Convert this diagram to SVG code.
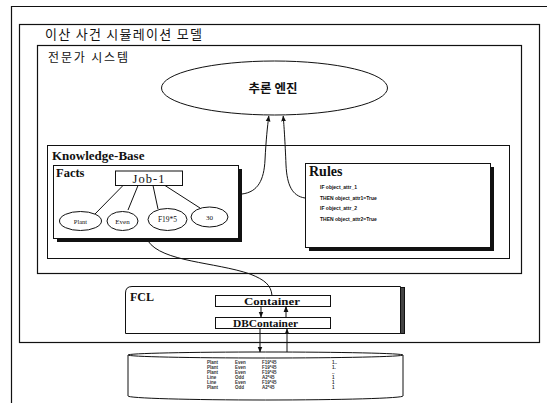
<svg xmlns="http://www.w3.org/2000/svg" width="547" height="403" viewBox="0 0 547 403">
<defs>
<marker id="ah" viewBox="0 0 10 10" refX="9" refY="5" markerWidth="6" markerHeight="6" orient="auto" markerUnits="userSpaceOnUse">
<path d="M0,1 L10,5 L0,9 z" fill="#111"/>
</marker>
<style>
.frame{fill:none;stroke:#111;stroke-width:1.2}
.box{fill:#fff;stroke:#111;stroke-width:1}
.shadow{fill:#111}
.kr{font-family:"Noto Sans CJK KR","Noto Sans",sans-serif;fill:#111}
.sf{font-family:"Liberation Serif",serif;fill:#111}
.ss{font-family:"Liberation Sans",sans-serif;fill:#111}
.conn{fill:none;stroke:#111;stroke-width:1}
.tbl{font-family:"Liberation Sans",sans-serif;font-size:4.5px;font-weight:bold;fill:#333}
</style>
</defs>
<rect width="547" height="403" fill="#fff"/>

<g id="outer-frame">
<path class="frame" d="M11.5,403 L11.5,6.5 L547,6.5"/>
</g>

<g id="simulation-model">
<rect class="frame" x="19.5" y="24.5" width="520" height="318"/>
<text class="kr" x="45" y="39" font-size="13" textLength="157">이산 사건 시뮬레이션 모델</text>
</g>

<g id="expert-system">
<rect class="frame" x="37.5" y="45.5" width="484" height="228"/>
<text class="kr" x="48" y="62" font-size="12" textLength="80">전문가 시스템</text>
</g>

<g id="inference-engine">
<ellipse class="box" cx="274.5" cy="88" rx="113" ry="27"/>
<text class="kr" x="273" y="93" font-size="12.5" font-weight="bold" text-anchor="middle">추론 엔진</text>
</g>

<g id="knowledge-base">
<rect class="box" x="47.5" y="145.5" width="462" height="113"/>
<text class="sf" x="52" y="160" font-size="13" font-weight="bold">Knowledge-Base</text>
</g>

<g id="facts">
<rect class="shadow" x="57" y="169" width="185" height="73"/>
<rect class="box" x="53.5" y="165.5" width="185" height="73"/>
<text class="sf" x="56" y="177" font-size="12.5" font-weight="bold">Facts</text>
<rect class="box" x="115.5" y="171" width="67" height="14.5"/>
<text class="sf" x="149" y="182.5" font-size="12.5" text-anchor="middle" letter-spacing="1">Job-1</text>
<g class="conn">
<line x1="123" y1="185.5" x2="95" y2="214"/>
<line x1="138" y1="185.5" x2="128" y2="210"/>
<line x1="153" y1="185.5" x2="158" y2="209"/>
<line x1="165" y1="185.5" x2="200" y2="208"/>
</g>
<ellipse class="box" cx="80.5" cy="221" rx="21" ry="9.5"/>
<text class="sf" x="80.5" y="223.5" font-size="6.5" text-anchor="middle">Plant</text>
<ellipse class="box" cx="122.5" cy="221" rx="15.5" ry="9.5"/>
<text class="sf" x="122.5" y="223.5" font-size="7" text-anchor="middle">Even</text>
<ellipse class="box" cx="167.5" cy="219.5" rx="19.5" ry="11"/>
<text class="sf" x="167.5" y="222" font-size="7.5" text-anchor="middle">F19*5</text>
<ellipse class="box" cx="209.5" cy="217" rx="18.5" ry="10"/>
<text class="sf" x="209.5" y="219.5" font-size="7" text-anchor="middle">30</text>
</g>

<g id="rules">
<rect class="shadow" x="309" y="167" width="185" height="84"/>
<rect class="box" x="305.5" y="163.5" width="185" height="84"/>
<text class="sf" x="309" y="176" font-size="14" font-weight="bold">Rules</text>
<g class="ss" font-size="5" font-weight="bold">
<text x="320" y="189">IF object_attr_1</text>
<text x="320" y="200">THEN object_attr1=True</text>
<text x="320" y="210">IF object_attr_2</text>
<text x="320" y="221">THEN object_attr2=True</text>
</g>
</g>

<g id="fcl">
<rect x="400.5" y="287.5" width="4" height="46" fill="#444" stroke="#111" stroke-width="1"/>
<path class="box" d="M125.5,333.5 L125.5,293 Q125.5,286.5 132,286.5 L400.5,286.5 L400.5,333.5 Z"/>
<text class="sf" x="130" y="301" font-size="12" font-weight="bold">FCL</text>
</g>

<g id="container">
<rect class="box" x="215.5" y="295.5" width="115" height="11"/>
<text class="sf" x="244" y="304.5" font-size="10.5" font-weight="bold" textLength="56" lengthAdjust="spacingAndGlyphs">Container</text>
</g>

<g id="dbcontainer">
<rect class="box" x="215.5" y="317.5" width="115" height="11"/>
<text class="sf" x="233" y="326.5" font-size="10.5" font-weight="bold" textLength="65" lengthAdjust="spacingAndGlyphs">DBContainer</text>
</g>

<g id="database">
<path class="box" d="M128,355 L128,396 A137.5,4 0 0 0 403,396 L403,355"/>
<ellipse class="box" cx="265.5" cy="355" rx="137.5" ry="3"/>
<g class="tbl">
<text x="207" y="364">Plant</text><text x="235" y="364">Even</text><text x="262" y="364">F19*45</text><text x="332" y="364">1..</text>
<text x="207" y="369">Plant</text><text x="235" y="369">Even</text><text x="262" y="369">F19*45</text><text x="332" y="369">1.</text>
<text x="207" y="374">Plant</text><text x="235" y="374">Even</text><text x="262" y="374">F19*45</text><text x="332" y="374">..</text>
<text x="207" y="379">Line</text><text x="235" y="379">Odd</text><text x="262" y="379">A2*45</text><text x="332" y="379">1</text>
<text x="207" y="384">Line</text><text x="235" y="384">Even</text><text x="262" y="384">F19*45</text><text x="332" y="384">1</text>
<text x="207" y="389">Plant</text><text x="235" y="389">Odd</text><text x="262" y="389">A2*45</text><text x="332" y="389">1</text>
</g>
</g>

<g id="connectors" class="conn">
<path d="M242,194 C258,192 264,180 265,160 C266,140 267.5,126 268.8,116" marker-end="url(#ah)"/>
<path d="M305,198 C292,196 287,185 286,165 C285,140 284,126 283.2,116" marker-end="url(#ah)"/>
<path d="M148,241 C162,262 215,262 250,274 C265,280 271,285 272,295.5"/>
<line x1="261" y1="306.5" x2="261" y2="317" marker-end="url(#ah)"/>
<line x1="286" y1="317.5" x2="286" y2="306.5" marker-end="url(#ah)"/>
<line x1="260" y1="328.5" x2="260" y2="352" marker-end="url(#ah)"/>
<line x1="287" y1="352" x2="287" y2="329" marker-end="url(#ah)"/>
</g>
</svg>
